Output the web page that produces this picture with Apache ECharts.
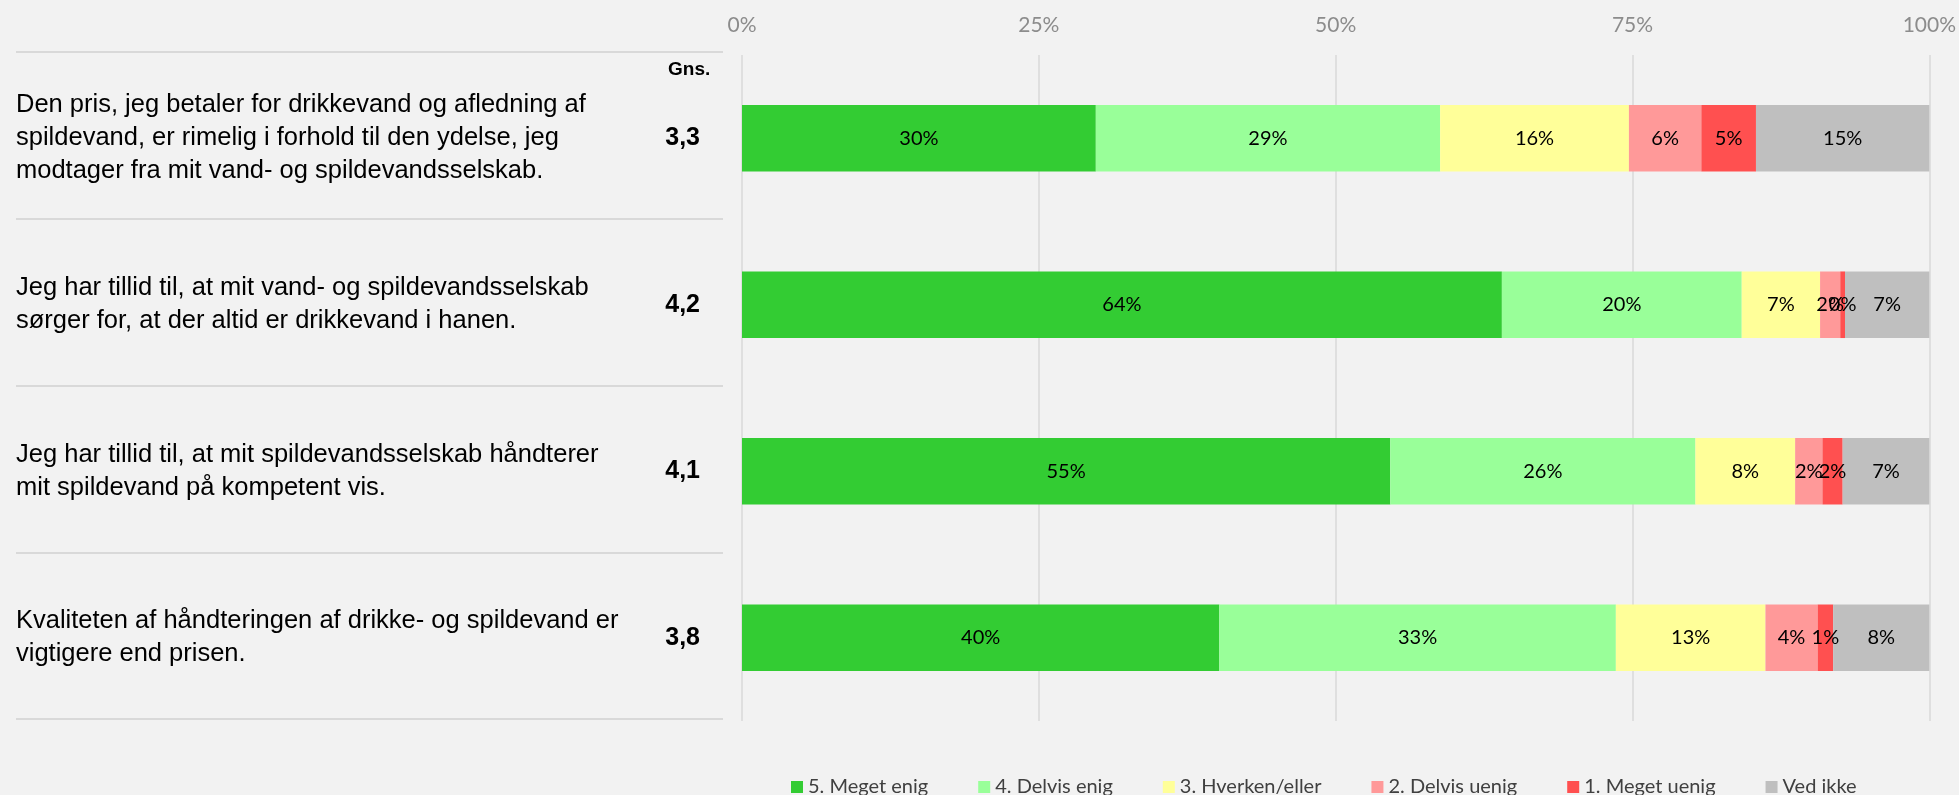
<!DOCTYPE html>
<html>
<head>
<meta charset="utf-8">
<script src="https://cdn.jsdelivr.net/npm/echarts@6/dist/echarts.min.js"></script>
<style>
html,body{margin:0;padding:0;background:#f2f2f2;}
#chart{width:1959px;height:795px;}
</style>
</head>
<body>
<div id="chart"></div>
<script>
const categories = [
  "Den pris, jeg betaler for drikkevand og afledning af\nspildevand, er rimelig i forhold til den ydelse, jeg\nmodtager fra mit vand- og spildevandsselskab.",
  "Jeg har tillid til, at mit vand- og spildevandsselskab\nsørger for, at der altid er drikkevand i hanen.",
  "Jeg har tillid til, at mit spildevandsselskab håndterer\nmit spildevand på kompetent vis.",
  "Kvaliteten af håndteringen af drikke- og spildevand er\nvigtigere end prisen."
];
const averages = ["3,3", "4,2", "4,1", "3,8"];
const seriesNames = ["5. Meget enig", "4. Delvis enig", "3. Hverken/eller", "2. Delvis uenig", "1. Meget uenig", "Ved ikke"];
const megetEnig   = [29.8, 64.0, 54.6, 40.2];
const delvisEnig  = [29.0, 20.2, 25.7, 33.4];
const hverkenEller= [15.9, 6.6, 8.4, 12.6];
const delvisUenig = [6.1, 1.7, 2.3, 4.4];
const megetUenig  = [4.6, 0.4, 1.7, 1.3];
const vedIkke     = [14.6, 7.1, 7.3, 8.1];
const xTicks = [0, 25, 50, 75, 100];

const seriesValues = [megetEnig, delvisEnig, hverkenEller, delvisUenig, megetUenig, vedIkke];
const colors = ["#33cc33", "#99ff99", "#ffff99", "#ff9999", "#ff5050", "#bfbfbf"];

const chart = echarts.init(document.getElementById('chart'));
const option = {
  backgroundColor: '#f2f2f2',
  animation: false,
  color: colors,
  title: {
    text: 'Gns.',
    left: 663, top: 55,
    textStyle: {fontFamily: 'Liberation Sans, Arial', fontWeight: 'bold', fontSize: 19, color: '#000'}
  },
  legend: {
    data: seriesNames,
    left: 786, top: 772,
    icon: 'rect', itemWidth: 12, itemHeight: 12, itemGap: 50,
    textStyle: {fontFamily: 'Lato', fontSize: 20, color: '#404040'}
  },
  grid: [
    {left: 742, right: 29, top: 55, bottom: 74},
    {left: 16, width: 707, top: 52, bottom: 76}
  ],
  xAxis: [
    {
      type: 'value', gridIndex: 0, position: 'top',
      min: xTicks[0], max: xTicks[xTicks.length - 1], interval: 25,
      axisLine: {show: false}, axisTick: {show: false},
      axisLabel: {formatter: '{value}%', color: '#8c8c8c', fontFamily: 'Lato', fontSize: 21, margin: 19},
      splitLine: {show: true, lineStyle: {color: '#d9d9d9', width: 1.5}}
    },
    {type: 'value', gridIndex: 1, show: false, min: 0, max: 1}
  ],
  yAxis: [
    {
      type: 'category', gridIndex: 0, inverse: true, data: categories,
      axisLine: {show: false}, axisTick: {show: false},
      axisLabel: {align: 'left', margin: 726, fontFamily: 'Liberation Sans, Arial', fontSize: 25.5, lineHeight: 33, color: '#000'}
    },
    {
      type: 'category', gridIndex: 0, inverse: true, position: 'left', data: averages,
      axisLine: {show: false}, axisTick: {show: false},
      axisLabel: {align: 'right', margin: 42, fontFamily: 'Liberation Sans, Arial', fontWeight: 'bold', fontSize: 25, color: '#000'}
    },
    {
      type: 'category', gridIndex: 1, inverse: true, data: categories,
      axisLine: {show: false}, axisTick: {show: false}, axisLabel: {show: false},
      splitLine: {show: true, lineStyle: {color: '#d9d9d9', width: 2}}
    }
  ],
  series: seriesNames.map((name, i) => ({
    name: name,
    type: 'bar',
    stack: 'total',
    xAxisIndex: 0, yAxisIndex: 0,
    barWidth: '40%',
    data: seriesValues[i],
    itemStyle: {color: colors[i]},
    label: {
      show: true, position: 'inside', color: '#000',
      fontFamily: 'Lato', fontSize: 20,
      formatter: p => Math.round(p.value) + '%'
    }
  }))
};
chart.setOption(option);
</script>
</body>
</html>
